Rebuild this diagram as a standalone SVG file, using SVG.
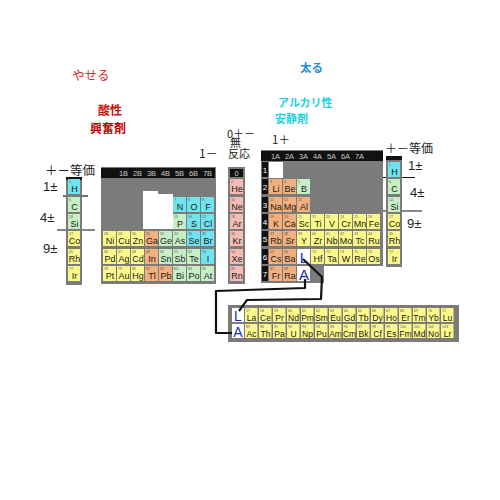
<svg xmlns="http://www.w3.org/2000/svg" width="500" height="500" viewBox="0 0 500 500">
<style>
.bg{fill:#7b7b7b}.k{fill:#111}
.o{fill:#f2b07e}.y{fill:#fbf98a}.gr{fill:#c6efc6}.c{fill:#6fe3ee}.p{fill:#f4bcb4}.w{fill:#fff}
.s{font-family:"Liberation Sans",Arial,sans-serif;font-size:9px;fill:#1a1a1a;text-anchor:middle}
.sf{font-family:"Liberation Sans",Arial,sans-serif;font-size:8.5px;fill:#1a1a1a;text-anchor:middle}
.n{font-family:"Liberation Sans",Arial,sans-serif;font-size:3.5px;fill:#555}
.hd{font-family:"Liberation Sans",Arial,sans-serif;font-size:7.5px;fill:#c8c8c8;text-anchor:middle}
.rl{font-family:"Liberation Sans",Arial,sans-serif;font-size:8px;fill:#fff;text-anchor:middle}
.bl{font-family:"Liberation Sans",Arial,sans-serif;fill:#1c2cb8;text-anchor:middle}
.j{font-family:"Noto Sans CJK JP",sans-serif;fill:#222}
.lt{font-family:"Liberation Sans",Arial,sans-serif;fill:#222;font-size:13px}
.jb{font-family:"Noto Sans CJK JP",sans-serif;font-weight:bold}
.ln{stroke:#111;stroke-width:1.2;fill:none}
.cn{stroke:#111;stroke-width:2.2;fill:none;stroke-linejoin:round}
</style>

<!-- labels -->
<g id="labels">
<text class="j" x="72" y="80" font-size="12.5" style="fill:#e02828">やせる</text>
<text class="jb" x="98" y="115" font-size="12" style="fill:#cc1010">酸性</text>
<text class="jb" x="90" y="133" font-size="12" style="fill:#b80000">興奮剤</text>
<text class="jb" x="300" y="72" font-size="11.5" style="fill:#1c8fd6">太る</text>
<text class="jb" x="278" y="106.5" font-size="11" style="fill:#22d0e4">アルカリ性</text>
<text class="jb" x="275" y="123" font-size="11" style="fill:#22d0e4">安静剤</text>
<text class="j" x="45" y="175" font-size="12.5">＋－等価</text>
<text class="lt" x="43" y="191">1±</text>
<text class="lt" x="40" y="222">4±</text>
<text class="lt" x="43" y="253">9±</text>
<text class="j" x="385" y="153" font-size="12">＋－等価</text>
<text class="lt" x="408" y="170">1±</text>
<text class="lt" x="410" y="197">4±</text>
<text class="lt" x="407" y="228">9±</text>
<text class="j" x="272" y="144" font-size="11.5">1＋</text>
<text class="j" x="199" y="158" font-size="12">1－</text>
<text class="j" font-size="11"><tspan x="227" y="138">0＋－</tspan><tspan x="230" y="147">無</tspan><tspan x="228" y="158">反応</tspan></text>
<line class="ln" x1="63" y1="196" x2="88" y2="196"/>
<line class="ln" x1="57" y1="230" x2="95" y2="230"/>
<line class="ln" x1="380" y1="177.5" x2="415" y2="177.5"/>
<line class="ln" x1="383" y1="211" x2="422" y2="211"/>
</g>

<!-- panels -->
<g id="panels">
<rect class="bg" x="66" y="177" width="16" height="108"/>
<rect class="k" x="66" y="177" width="16" height="3"/>
<rect class="bg" x="101" y="167" width="115" height="117"/>
<rect class="k" x="101" y="168" width="114" height="10"/>
<path class="w" d="M143,191H158V194H173V229H143Z"/>
<rect class="bg" x="228" y="167" width="17" height="117"/>
<rect class="k" x="230" y="169" width="13" height="8"/>
<text class="hd" x="236.5" y="176">0</text>
<rect class="bg" x="261" y="150" width="122" height="116"/>
<rect class="bg" x="261" y="265" width="63" height="18"/>
<rect class="k" x="261" y="151" width="122" height="10"/>
<rect class="k" x="262" y="162" width="6" height="15"/>
<rect class="k" x="262" y="179" width="6" height="15"/>
<rect class="k" x="262" y="197" width="6" height="15"/>
<rect class="k" x="262" y="214" width="6" height="15"/>
<rect class="k" x="262" y="231" width="6" height="15"/>
<rect class="k" x="262" y="249" width="6" height="15"/>
<rect class="k" x="262" y="266" width="6" height="15"/>
<text class="rl" x="265" y="173">1</text>
<text class="rl" x="265" y="190">2</text>
<text class="rl" x="265" y="208">3</text>
<text class="rl" x="265" y="225">4</text>
<text class="rl" x="265" y="242">5</text>
<text class="rl" x="265" y="260">6</text>
<text class="rl" x="265" y="277">7</text>
<rect class="w" x="269" y="162" width="14" height="16"/>
<text class="hd" x="275.5" y="159">1A</text>
<text class="hd" x="289.5" y="159">2A</text>
<text class="hd" x="303.5" y="159">3A</text>
<text class="hd" x="317.5" y="159">4A</text>
<text class="hd" x="331.5" y="159">5A</text>
<text class="hd" x="345.5" y="159">6A</text>
<text class="hd" x="359.5" y="159">7A</text>
<text class="hd" x="123.5" y="176">1B</text>
<text class="hd" x="137.5" y="176">2B</text>
<text class="hd" x="151.5" y="176">3B</text>
<text class="hd" x="165.5" y="176">4B</text>
<text class="hd" x="179.5" y="176">5B</text>
<text class="hd" x="193.5" y="176">6B</text>
<text class="hd" x="207.5" y="176">7B</text>
<rect class="bg" x="386" y="156" width="16" height="111"/>
<rect class="k" x="386" y="156" width="16" height="4"/>
<rect class="bg" x="228" y="305" width="231" height="37"/>
</g>

<!-- main block -->
<g id="m-Li" transform="translate(269,179)"><rect class="o" width="13" height="15"/><text class="s" x="7" y="13">Li</text><text class="n" x="1" y="3.5">3</text></g>
<g id="m-Be" transform="translate(283,179)"><rect class="o" width="13" height="15"/><text class="s" x="7" y="13">Be</text><text class="n" x="1" y="3.5">4</text></g>
<g id="m-B" transform="translate(297,179)"><rect class="gr" width="13" height="15"/><text class="s" x="7" y="13">B</text><text class="n" x="1" y="3.5">5</text></g>
<g id="m-Na" transform="translate(269,197)"><rect class="o" width="13" height="15"/><text class="s" x="7" y="13">Na</text><text class="n" x="1" y="3.5">11</text></g>
<g id="m-Mg" transform="translate(283,197)"><rect class="o" width="13" height="15"/><text class="s" x="7" y="13">Mg</text><text class="n" x="1" y="3.5">12</text></g>
<g id="m-Al" transform="translate(297,197)"><rect class="o" width="13" height="15"/><text class="s" x="7" y="13">Al</text><text class="n" x="1" y="3.5">13</text></g>
<g id="m-K" transform="translate(269,214)"><rect class="o" width="13" height="15"/><text class="s" x="7" y="13">K</text><text class="n" x="1" y="3.5">19</text></g>
<g id="m-Ca" transform="translate(283,214)"><rect class="o" width="13" height="15"/><text class="s" x="7" y="13">Ca</text><text class="n" x="1" y="3.5">20</text></g>
<g id="m-Sc" transform="translate(297,214)"><rect class="y" width="13" height="15"/><text class="s" x="7" y="13">Sc</text><text class="n" x="1" y="3.5">21</text></g>
<g id="m-Ti" transform="translate(311,214)"><rect class="y" width="13" height="15"/><text class="s" x="7" y="13">Ti</text><text class="n" x="1" y="3.5">22</text></g>
<g id="m-V" transform="translate(325,214)"><rect class="y" width="13" height="15"/><text class="s" x="7" y="13">V</text><text class="n" x="1" y="3.5">23</text></g>
<g id="m-Cr" transform="translate(339,214)"><rect class="y" width="13" height="15"/><text class="s" x="7" y="13">Cr</text><text class="n" x="1" y="3.5">24</text></g>
<g id="m-Mn" transform="translate(353,214)"><rect class="y" width="13" height="15"/><text class="s" x="7" y="13">Mn</text><text class="n" x="1" y="3.5">25</text></g>
<g id="m-Fe" transform="translate(367,214)"><rect class="y" width="13" height="15"/><text class="s" x="7" y="13">Fe</text><text class="n" x="1" y="3.5">26</text></g>
<g id="m-Rb" transform="translate(269,231)"><rect class="o" width="13" height="15"/><text class="s" x="7" y="13">Rb</text><text class="n" x="1" y="3.5">37</text></g>
<g id="m-Sr" transform="translate(283,231)"><rect class="o" width="13" height="15"/><text class="s" x="7" y="13">Sr</text><text class="n" x="1" y="3.5">38</text></g>
<g id="m-Y" transform="translate(297,231)"><rect class="y" width="13" height="15"/><text class="s" x="7" y="13">Y</text><text class="n" x="1" y="3.5">39</text></g>
<g id="m-Zr" transform="translate(311,231)"><rect class="y" width="13" height="15"/><text class="s" x="7" y="13">Zr</text><text class="n" x="1" y="3.5">40</text></g>
<g id="m-Nb" transform="translate(325,231)"><rect class="y" width="13" height="15"/><text class="s" x="7" y="13">Nb</text><text class="n" x="1" y="3.5">41</text></g>
<g id="m-Mo" transform="translate(339,231)"><rect class="y" width="13" height="15"/><text class="s" x="7" y="13">Mo</text><text class="n" x="1" y="3.5">42</text></g>
<g id="m-Tc" transform="translate(353,231)"><rect class="y" width="13" height="15"/><text class="s" x="7" y="13">Tc</text><text class="n" x="1" y="3.5">43</text></g>
<g id="m-Ru" transform="translate(367,231)"><rect class="y" width="13" height="15"/><text class="s" x="7" y="13">Ru</text><text class="n" x="1" y="3.5">44</text></g>
<g id="m-Cs" transform="translate(269,249)"><rect class="o" width="13" height="15"/><text class="s" x="7" y="13">Cs</text><text class="n" x="1" y="3.5">55</text></g>
<g id="m-Ba" transform="translate(283,249)"><rect class="o" width="13" height="15"/><text class="s" x="7" y="13">Ba</text><text class="n" x="1" y="3.5">56</text></g>
<g id="m-L" transform="translate(297,249)"><rect class="w" width="13" height="15"/><text class="bl" x="7" y="13.5" font-size="15">L</text></g>
<g id="m-Hf" transform="translate(311,249)"><rect class="y" width="13" height="15"/><text class="s" x="7" y="13">Hf</text><text class="n" x="1" y="3.5">72</text></g>
<g id="m-Ta" transform="translate(325,249)"><rect class="y" width="13" height="15"/><text class="s" x="7" y="13">Ta</text><text class="n" x="1" y="3.5">73</text></g>
<g id="m-W" transform="translate(339,249)"><rect class="y" width="13" height="15"/><text class="s" x="7" y="13">W</text><text class="n" x="1" y="3.5">74</text></g>
<g id="m-Re" transform="translate(353,249)"><rect class="y" width="13" height="15"/><text class="s" x="7" y="13">Re</text><text class="n" x="1" y="3.5">75</text></g>
<g id="m-Os" transform="translate(367,249)"><rect class="y" width="13" height="15"/><text class="s" x="7" y="13">Os</text><text class="n" x="1" y="3.5">76</text></g>
<g id="m-Fr" transform="translate(269,266)"><rect class="o" width="13" height="15"/><text class="s" x="7" y="13">Fr</text><text class="n" x="1" y="3.5">87</text></g>
<g id="m-Ra" transform="translate(283,266)"><rect class="o" width="13" height="15"/><text class="s" x="7" y="13">Ra</text><text class="n" x="1" y="3.5">88</text></g>
<g id="m-A" transform="translate(297,266)"><rect class="w" width="13" height="15"/><text class="bl" x="7" y="13.5" font-size="15">A</text></g>

<!-- middle block -->
<g id="b-N" transform="translate(173,197)"><rect class="c" width="13" height="15"/><text class="s" x="7" y="13">N</text><text class="n" x="1" y="3.5">7</text></g>
<g id="b-O" transform="translate(187,197)"><rect class="c" width="13" height="15"/><text class="s" x="7" y="13">O</text><text class="n" x="1" y="3.5">8</text></g>
<g id="b-F" transform="translate(201,197)"><rect class="c" width="13" height="15"/><text class="s" x="7" y="13">F</text><text class="n" x="1" y="3.5">9</text></g>
<g id="b-P" transform="translate(173,214)"><rect class="gr" width="13" height="15"/><text class="s" x="7" y="13">P</text><text class="n" x="1" y="3.5">15</text></g>
<g id="b-S" transform="translate(187,214)"><rect class="c" width="13" height="15"/><text class="s" x="7" y="13">S</text><text class="n" x="1" y="3.5">16</text></g>
<g id="b-Cl" transform="translate(201,214)"><rect class="c" width="13" height="15"/><text class="s" x="7" y="13">Cl</text><text class="n" x="1" y="3.5">17</text></g>
<g id="b-Ni" transform="translate(103,231)"><rect class="y" width="13" height="15"/><text class="s" x="7" y="13">Ni</text><text class="n" x="1" y="3.5">28</text></g>
<g id="b-Cu" transform="translate(117,231)"><rect class="y" width="13" height="15"/><text class="s" x="7" y="13">Cu</text><text class="n" x="1" y="3.5">29</text></g>
<g id="b-Zn" transform="translate(131,231)"><rect class="y" width="13" height="15"/><text class="s" x="7" y="13">Zn</text><text class="n" x="1" y="3.5">30</text></g>
<g id="b-Ga" transform="translate(145,231)"><rect class="o" width="13" height="15"/><text class="s" x="7" y="13">Ga</text><text class="n" x="1" y="3.5">31</text></g>
<g id="b-Ge" transform="translate(159,231)"><rect class="gr" width="13" height="15"/><text class="s" x="7" y="13">Ge</text><text class="n" x="1" y="3.5">32</text></g>
<g id="b-As" transform="translate(173,231)"><rect class="gr" width="13" height="15"/><text class="s" x="7" y="13">As</text><text class="n" x="1" y="3.5">33</text></g>
<g id="b-Se" transform="translate(187,231)"><rect class="c" width="13" height="15"/><text class="s" x="7" y="13">Se</text><text class="n" x="1" y="3.5">34</text></g>
<g id="b-Br" transform="translate(201,231)"><rect class="c" width="13" height="15"/><text class="s" x="7" y="13">Br</text><text class="n" x="1" y="3.5">35</text></g>
<g id="b-Pd" transform="translate(103,249)"><rect class="y" width="13" height="15"/><text class="s" x="7" y="13">Pd</text><text class="n" x="1" y="3.5">46</text></g>
<g id="b-Ag" transform="translate(117,249)"><rect class="y" width="13" height="15"/><text class="s" x="7" y="13">Ag</text><text class="n" x="1" y="3.5">47</text></g>
<g id="b-Cd" transform="translate(131,249)"><rect class="y" width="13" height="15"/><text class="s" x="7" y="13">Cd</text><text class="n" x="1" y="3.5">48</text></g>
<g id="b-In" transform="translate(145,249)"><rect class="o" width="13" height="15"/><text class="s" x="7" y="13">In</text><text class="n" x="1" y="3.5">49</text></g>
<g id="b-Sn" transform="translate(159,249)"><rect class="gr" width="13" height="15"/><text class="s" x="7" y="13">Sn</text><text class="n" x="1" y="3.5">50</text></g>
<g id="b-Sb" transform="translate(173,249)"><rect class="gr" width="13" height="15"/><text class="s" x="7" y="13">Sb</text><text class="n" x="1" y="3.5">51</text></g>
<g id="b-Te" transform="translate(187,249)"><rect class="gr" width="13" height="15"/><text class="s" x="7" y="13">Te</text><text class="n" x="1" y="3.5">52</text></g>
<g id="b-I" transform="translate(201,249)"><rect class="c" width="13" height="15"/><text class="s" x="7" y="13">I</text><text class="n" x="1" y="3.5">53</text></g>
<g id="b-Pt" transform="translate(103,266)"><rect class="y" width="13" height="15"/><text class="s" x="7" y="13">Pt</text><text class="n" x="1" y="3.5">78</text></g>
<g id="b-Au" transform="translate(117,266)"><rect class="y" width="13" height="15"/><text class="s" x="7" y="13">Au</text><text class="n" x="1" y="3.5">79</text></g>
<g id="b-Hg" transform="translate(131,266)"><rect class="y" width="13" height="15"/><text class="s" x="7" y="13">Hg</text><text class="n" x="1" y="3.5">80</text></g>
<g id="b-Tl" transform="translate(145,266)"><rect class="o" width="13" height="15"/><text class="s" x="7" y="13">Tl</text><text class="n" x="1" y="3.5">81</text></g>
<g id="b-Pb" transform="translate(159,266)"><rect class="o" width="13" height="15"/><text class="s" x="7" y="13">Pb</text><text class="n" x="1" y="3.5">82</text></g>
<g id="b-Bi" transform="translate(173,266)"><rect class="gr" width="13" height="15"/><text class="s" x="7" y="13">Bi</text><text class="n" x="1" y="3.5">83</text></g>
<g id="b-Po" transform="translate(187,266)"><rect class="gr" width="13" height="15"/><text class="s" x="7" y="13">Po</text><text class="n" x="1" y="3.5">84</text></g>
<g id="b-At" transform="translate(201,266)"><rect class="gr" width="13" height="15"/><text class="s" x="7" y="13">At</text><text class="n" x="1" y="3.5">85</text></g>

<!-- noble gases -->
<g id="z-He" transform="translate(230,179)"><rect class="p" width="13" height="15"/><text class="s" x="7" y="13">He</text><text class="n" x="1" y="3.5">2</text></g>
<g id="z-Ne" transform="translate(230,197)"><rect class="p" width="13" height="15"/><text class="s" x="7" y="13">Ne</text><text class="n" x="1" y="3.5">10</text></g>
<g id="z-Ar" transform="translate(230,214)"><rect class="p" width="13" height="15"/><text class="s" x="7" y="13">Ar</text><text class="n" x="1" y="3.5">18</text></g>
<g id="z-Kr" transform="translate(230,231)"><rect class="p" width="13" height="15"/><text class="s" x="7" y="13">Kr</text><text class="n" x="1" y="3.5">36</text></g>
<g id="z-Xe" transform="translate(230,249)"><rect class="p" width="13" height="15"/><text class="s" x="7" y="13">Xe</text><text class="n" x="1" y="3.5">54</text></g>
<g id="z-Rn" transform="translate(230,266)"><rect class="p" width="13" height="15"/><text class="s" x="7" y="13">Rn</text><text class="n" x="1" y="3.5">86</text></g>

<!-- left small table -->
<g id="l-H" transform="translate(68,179)"><rect class="c" width="12" height="15"/><text class="s" x="6.5" y="13">H</text><text class="n" x="1" y="3.5">1</text></g>
<g id="l-C" transform="translate(68,197)"><rect class="gr" width="12" height="15"/><text class="s" x="6.5" y="13">C</text><text class="n" x="1" y="3.5">6</text></g>
<g id="l-Si" transform="translate(68,214)"><rect class="gr" width="12" height="15"/><text class="s" x="6.5" y="13">Si</text><text class="n" x="1" y="3.5">14</text></g>
<g id="l-Co" transform="translate(68,231)"><rect class="y" width="12" height="15"/><text class="s" x="6.5" y="13">Co</text><text class="n" x="1" y="3.5">27</text></g>
<g id="l-Rh" transform="translate(68,249)"><rect class="y" width="12" height="15"/><text class="s" x="6.5" y="13">Rh</text><text class="n" x="1" y="3.5">45</text></g>
<g id="l-Ir" transform="translate(68,266)"><rect class="y" width="12" height="15"/><text class="s" x="6.5" y="13">Ir</text><text class="n" x="1" y="3.5">77</text></g>

<!-- right small table -->
<g id="r-H" transform="translate(388,162)"><rect class="c" width="12" height="15"/><text class="s" x="6.5" y="13">H</text><text class="n" x="1" y="3.5">1</text></g>
<g id="r-C" transform="translate(388,179)"><rect class="gr" width="12" height="15"/><text class="s" x="6.5" y="13">C</text><text class="n" x="1" y="3.5">6</text></g>
<g id="r-Si" transform="translate(388,197)"><rect class="gr" width="12" height="15"/><text class="s" x="6.5" y="13">Si</text><text class="n" x="1" y="3.5">14</text></g>
<g id="r-Co" transform="translate(388,214)"><rect class="y" width="12" height="15"/><text class="s" x="6.5" y="13">Co</text><text class="n" x="1" y="3.5">27</text></g>
<g id="r-Rh" transform="translate(388,231)"><rect class="y" width="12" height="15"/><text class="s" x="6.5" y="13">Rh</text><text class="n" x="1" y="3.5">45</text></g>
<g id="r-Ir" transform="translate(388,249)"><rect class="y" width="12" height="15"/><text class="s" x="6.5" y="13">Ir</text><text class="n" x="1" y="3.5">77</text></g>

<!-- lanthanides / actinides -->
<g id="f-L" transform="translate(232,308)"><rect class="w" width="12" height="14"/><text class="bl" x="6" y="12.5" font-size="14">L</text></g>
<g id="f-A" transform="translate(232,324)"><rect class="w" width="12" height="14"/><text class="bl" x="6" y="12.5" font-size="14">A</text></g>
<g id="f-La" transform="translate(245,308)"><rect class="y" width="12.5" height="14"/><text class="sf" x="6.5" y="12.5">La</text><text class="n" x="1" y="3.5">57</text></g>
<g id="f-Ce" transform="translate(259,308)"><rect class="y" width="12.5" height="14"/><text class="sf" x="6.5" y="12.5">Ce</text><text class="n" x="1" y="3.5">58</text></g>
<g id="f-Pr" transform="translate(273,308)"><rect class="y" width="12.5" height="14"/><text class="sf" x="6.5" y="12.5">Pr</text><text class="n" x="1" y="3.5">59</text></g>
<g id="f-Nd" transform="translate(287,308)"><rect class="y" width="12.5" height="14"/><text class="sf" x="6.5" y="12.5">Nd</text><text class="n" x="1" y="3.5">60</text></g>
<g id="f-Pm" transform="translate(301,308)"><rect class="y" width="12.5" height="14"/><text class="sf" x="6.5" y="12.5">Pm</text><text class="n" x="1" y="3.5">61</text></g>
<g id="f-Sm" transform="translate(315,308)"><rect class="y" width="12.5" height="14"/><text class="sf" x="6.5" y="12.5">Sm</text><text class="n" x="1" y="3.5">62</text></g>
<g id="f-Eu" transform="translate(329,308)"><rect class="y" width="12.5" height="14"/><text class="sf" x="6.5" y="12.5">Eu</text><text class="n" x="1" y="3.5">63</text></g>
<g id="f-Gd" transform="translate(343,308)"><rect class="y" width="12.5" height="14"/><text class="sf" x="6.5" y="12.5">Gd</text><text class="n" x="1" y="3.5">64</text></g>
<g id="f-Tb" transform="translate(357,308)"><rect class="y" width="12.5" height="14"/><text class="sf" x="6.5" y="12.5">Tb</text><text class="n" x="1" y="3.5">65</text></g>
<g id="f-Dy" transform="translate(371,308)"><rect class="y" width="12.5" height="14"/><text class="sf" x="6.5" y="12.5">Dy</text><text class="n" x="1" y="3.5">66</text></g>
<g id="f-Ho" transform="translate(385,308)"><rect class="y" width="12.5" height="14"/><text class="sf" x="6.5" y="12.5">Ho</text><text class="n" x="1" y="3.5">67</text></g>
<g id="f-Er" transform="translate(399,308)"><rect class="y" width="12.5" height="14"/><text class="sf" x="6.5" y="12.5">Er</text><text class="n" x="1" y="3.5">68</text></g>
<g id="f-Tm" transform="translate(413,308)"><rect class="y" width="12.5" height="14"/><text class="sf" x="6.5" y="12.5">Tm</text><text class="n" x="1" y="3.5">69</text></g>
<g id="f-Yb" transform="translate(427,308)"><rect class="y" width="12.5" height="14"/><text class="sf" x="6.5" y="12.5">Yb</text><text class="n" x="1" y="3.5">70</text></g>
<g id="f-Lu" transform="translate(441,308)"><rect class="y" width="12.5" height="14"/><text class="sf" x="6.5" y="12.5">Lu</text><text class="n" x="1" y="3.5">71</text></g>
<g id="f-Ac" transform="translate(245,324)"><rect class="y" width="12.5" height="14"/><text class="sf" x="6.5" y="12.5">Ac</text><text class="n" x="1" y="3.5">89</text></g>
<g id="f-Th" transform="translate(259,324)"><rect class="y" width="12.5" height="14"/><text class="sf" x="6.5" y="12.5">Th</text><text class="n" x="1" y="3.5">90</text></g>
<g id="f-Pa" transform="translate(273,324)"><rect class="y" width="12.5" height="14"/><text class="sf" x="6.5" y="12.5">Pa</text><text class="n" x="1" y="3.5">91</text></g>
<g id="f-U" transform="translate(287,324)"><rect class="y" width="12.5" height="14"/><text class="sf" x="6.5" y="12.5">U</text><text class="n" x="1" y="3.5">92</text></g>
<g id="f-Np" transform="translate(301,324)"><rect class="y" width="12.5" height="14"/><text class="sf" x="6.5" y="12.5">Np</text><text class="n" x="1" y="3.5">93</text></g>
<g id="f-Pu" transform="translate(315,324)"><rect class="y" width="12.5" height="14"/><text class="sf" x="6.5" y="12.5">Pu</text><text class="n" x="1" y="3.5">94</text></g>
<g id="f-Am" transform="translate(329,324)"><rect class="y" width="12.5" height="14"/><text class="sf" x="6.5" y="12.5">Am</text><text class="n" x="1" y="3.5">95</text></g>
<g id="f-Cm" transform="translate(343,324)"><rect class="y" width="12.5" height="14"/><text class="sf" x="6.5" y="12.5">Cm</text><text class="n" x="1" y="3.5">96</text></g>
<g id="f-Bk" transform="translate(357,324)"><rect class="y" width="12.5" height="14"/><text class="sf" x="6.5" y="12.5">Bk</text><text class="n" x="1" y="3.5">97</text></g>
<g id="f-Cf" transform="translate(371,324)"><rect class="y" width="12.5" height="14"/><text class="sf" x="6.5" y="12.5">Cf</text><text class="n" x="1" y="3.5">98</text></g>
<g id="f-Es" transform="translate(385,324)"><rect class="y" width="12.5" height="14"/><text class="sf" x="6.5" y="12.5">Es</text><text class="n" x="1" y="3.5">99</text></g>
<g id="f-Fm" transform="translate(399,324)"><rect class="y" width="12.5" height="14"/><text class="sf" x="6.5" y="12.5">Fm</text><text class="n" x="1" y="3.5">100</text></g>
<g id="f-Md" transform="translate(413,324)"><rect class="y" width="12.5" height="14"/><text class="sf" x="6.5" y="12.5">Md</text><text class="n" x="1" y="3.5">101</text></g>
<g id="f-No" transform="translate(427,324)"><rect class="y" width="12.5" height="14"/><text class="sf" x="6.5" y="12.5">No</text><text class="n" x="1" y="3.5">102</text></g>
<g id="f-Lr" transform="translate(441,324)"><rect class="y" width="12.5" height="14"/><text class="sf" x="6.5" y="12.5">Lr</text><text class="n" x="1" y="3.5">103</text></g>

<!-- connectors -->
<g id="connectors">
<polyline class="cn" points="303,259 322,277 321,299 247,300 239,311"/>
<polyline class="cn" points="305,279 305,288 216,291 216,333 232,333"/>
</g>
</svg>
